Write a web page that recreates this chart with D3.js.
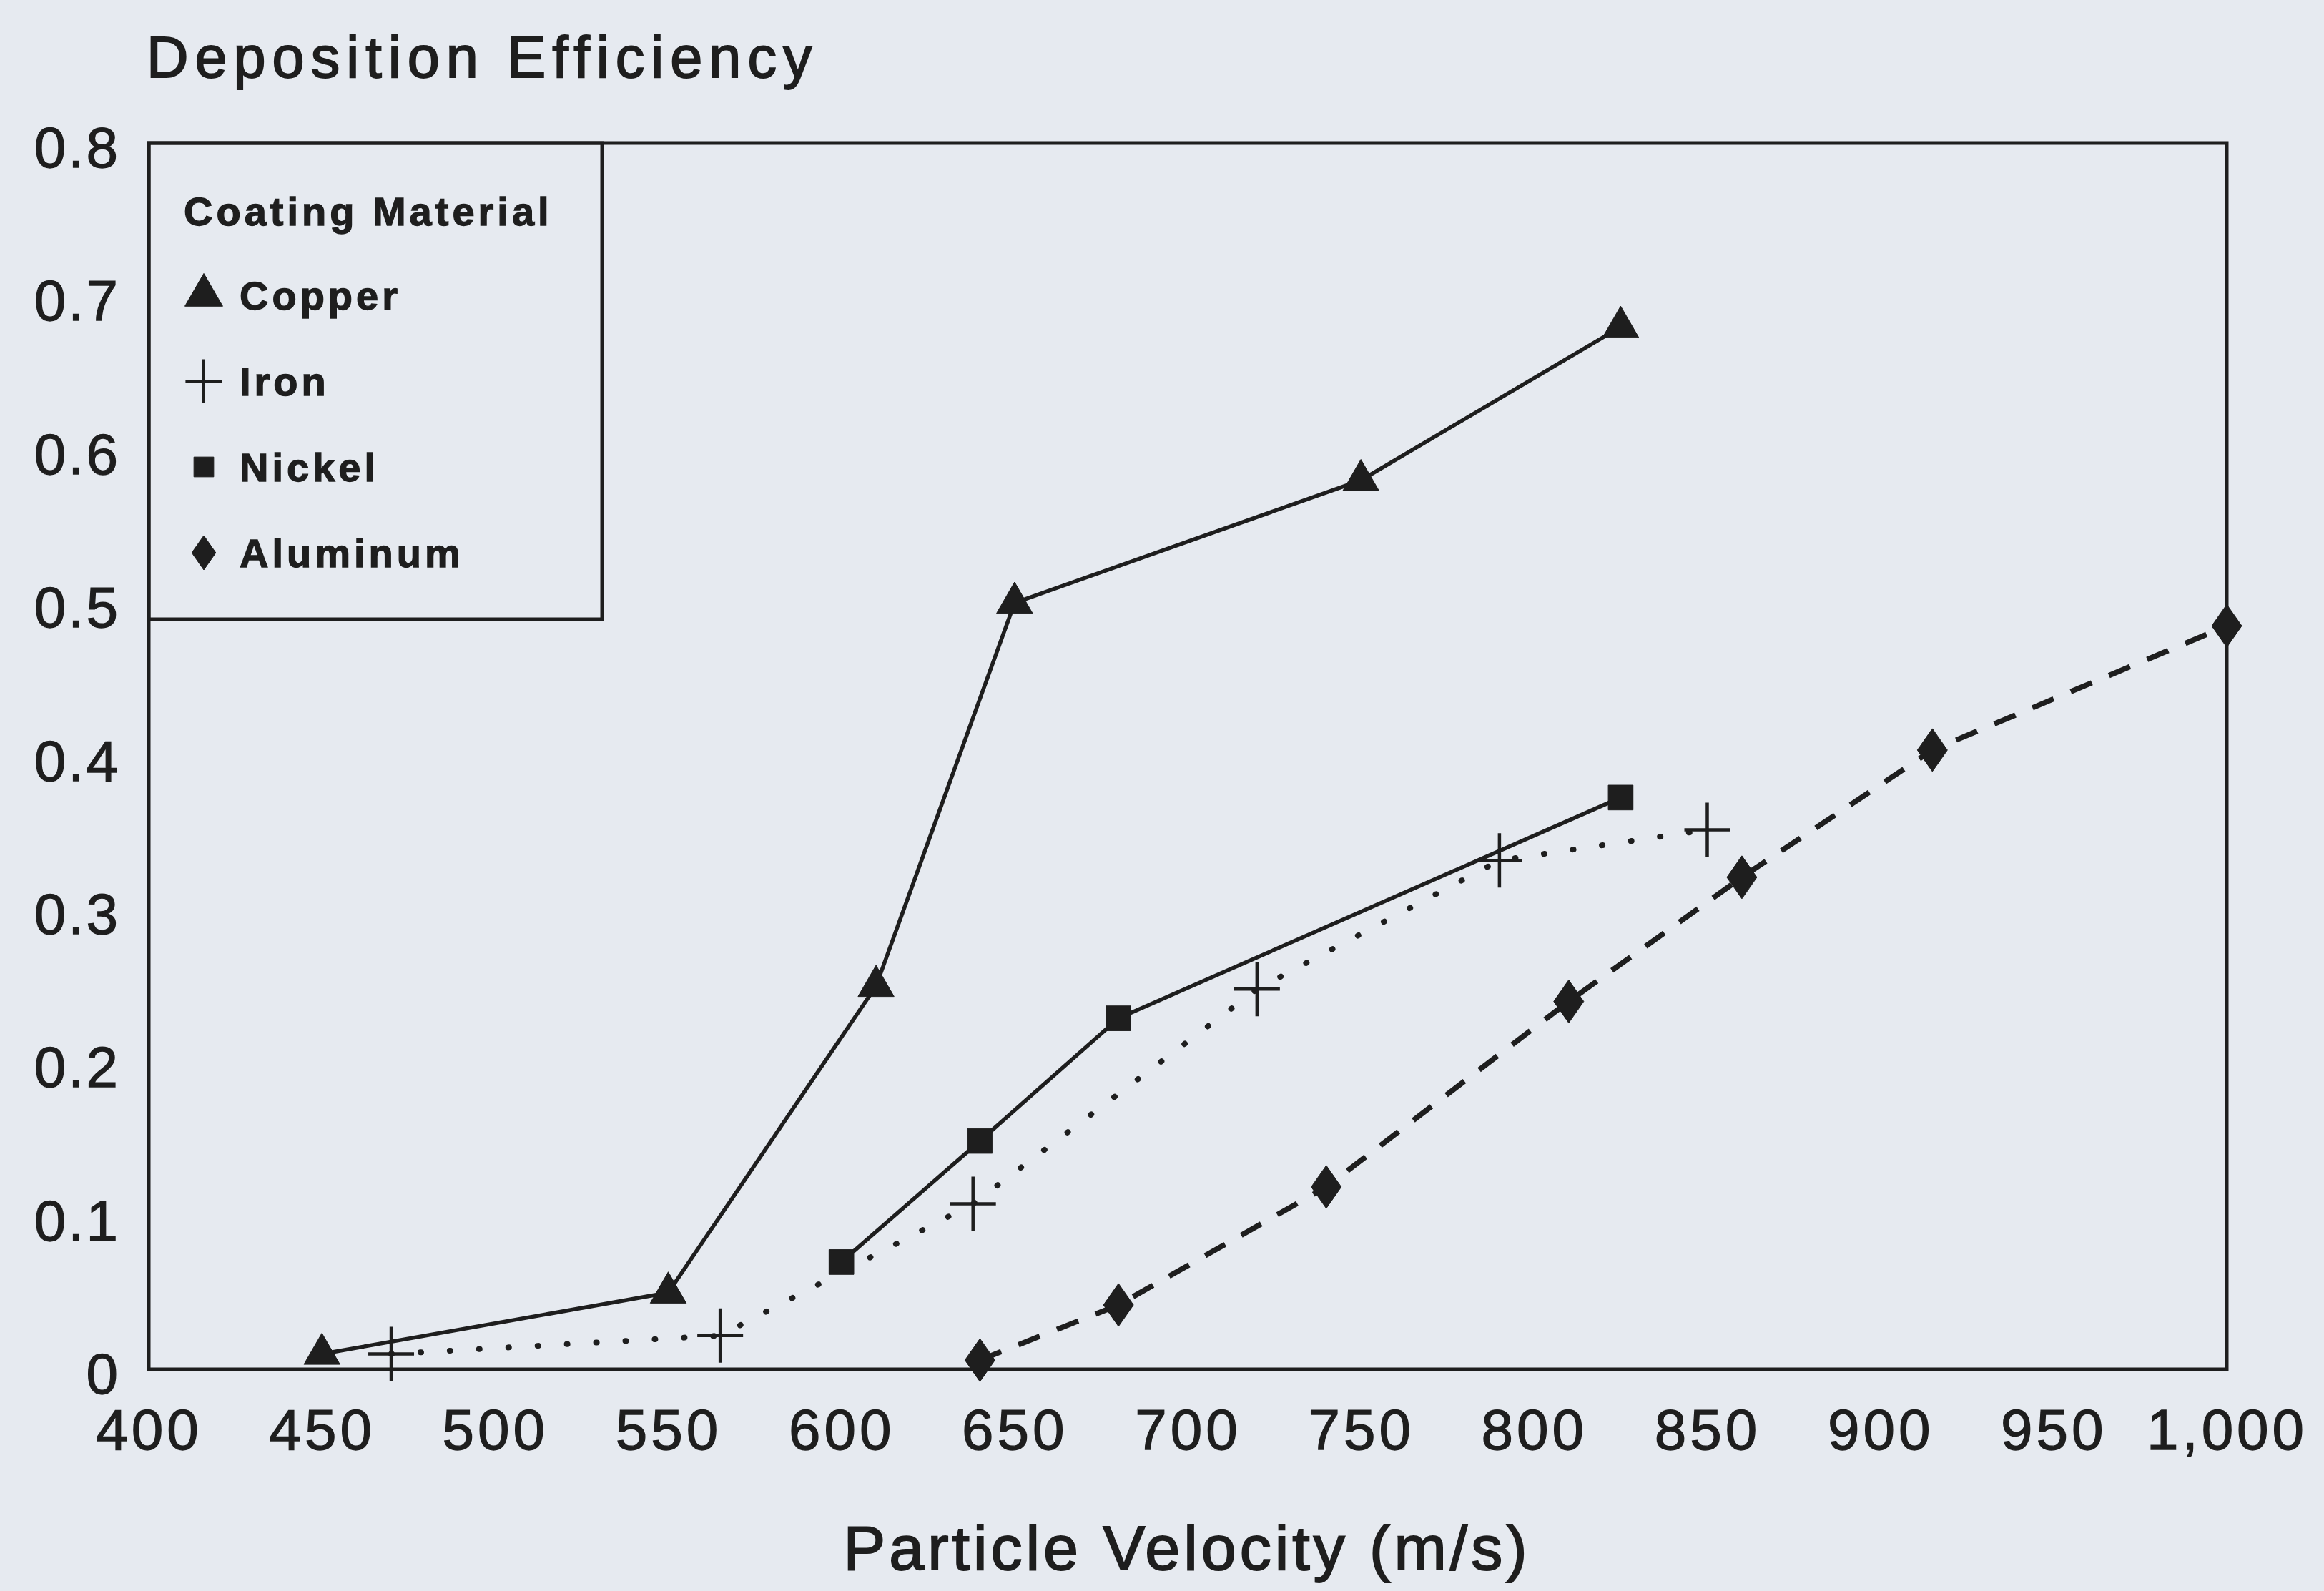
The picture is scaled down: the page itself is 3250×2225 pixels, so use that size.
<!DOCTYPE html>
<html lang="en">
  <head>
    <meta charset="UTF-8" />
    <title>Deposition Efficiency</title>
    <script src="https://cdn.jsdelivr.net/npm/d3@7"></script>
    <style>
      body {
        margin: 0;
        background: #e6eaf0;
      }
      svg text {
        font-family: "Liberation Sans", Arial, sans-serif;
        fill: #1e1e1e;
        stroke: #1e1e1e;
        stroke-width: 1.3px;
      }
    </style>
  </head>
  <body>
    <svg></svg>
    <script>
      // values
      const xTicks = [400, 450, 500, 550, 600, 650, 700, 750, 800, 850, 900, 950, 1000];
      const yTicks = [0, 0.1, 0.2, 0.3, 0.4, 0.5, 0.6, 0.7, 0.8];

      const copperVel = [450, 550, 610, 650, 750, 825];
      const copperEff = [0.01, 0.05, 0.25, 0.5, 0.58, 0.68];

      const ironVel = [470, 565, 638, 720, 790, 850];
      const ironEff = [0.01, 0.022, 0.108, 0.248, 0.332, 0.352];

      const nickelVel = [600, 640, 680, 825];
      const nickelEff = [0.07, 0.149, 0.229, 0.373];

      const aluminumVel = [640, 680, 740, 810, 860, 915, 1000];
      const aluminumEff = [0.006, 0.042, 0.119, 0.24, 0.321, 0.404, 0.485];

      const materials = ["Copper", "Iron", "Nickel", "Aluminum"];

      let width = 3250,
        height = 2225;
      let margin = { left: 208, right: 136, top: 200, bottom: 310 };

      let svg = d3.select("svg").attr("width", width).attr("height", height);

      let x = d3
        .scaleLinear()
        .domain([400, 1000])
        .range([margin.left, width - margin.right]);
      let y = d3
        .scaleLinear()
        .domain([0, 0.8])
        .range([height - margin.bottom, margin.top]);

      const ink = "#1e1e1e";

      // marker shapes
      function markerPath(name, s) {
        s = s || 1;
        if (name == "Copper")
          return d3.symbol().type(d3.symbolTriangle).size(1100 * s * s)();
        if (name == "Nickel")
          return d3.symbol().type(d3.symbolSquare).size(1200 * s * s)();
        if (name == "Aluminum") {
          let w = 21 * s, h = 30 * s;
          return `M0,${-h}L${w},0L0,${h}L${-w},0Z`;
        }
        // iron cross
        let w = 32 * s, h = 38 * s;
        return `M${-w},0H${w}M0,${-h}V${h}`;
      }

      let series = [
        { name: "Copper", vel: copperVel, eff: copperEff, dash: null, lw: 5.5 },
        { name: "Iron", vel: ironVel, eff: ironEff, dash: "1,40", lw: 8 },
        { name: "Nickel", vel: nickelVel, eff: nickelEff, dash: null, lw: 5.5 },
        { name: "Aluminum", vel: aluminumVel, eff: aluminumEff, dash: "32,26", lw: 7.5 },
      ];

      let line = d3
        .line()
        .x((d) => x(d[0]))
        .y((d) => y(d[1]));

      // plot frame
      svg
        .append("rect")
        .attr("x", x(400))
        .attr("y", y(0.8))
        .attr("width", x(1000) - x(400))
        .attr("height", y(0) - y(0.8))
        .attr("fill", "none")
        .attr("stroke", ink)
        .attr("stroke-width", 5);

      series.forEach((s) => {
        let pts = s.vel.map((v, i) => [v, s.eff[i]]);
        svg
          .append("path")
          .attr("d", line(pts))
          .attr("fill", "none")
          .attr("stroke", ink)
          .attr("stroke-width", s.lw)
          .attr("stroke-linecap", s.name == "Iron" ? "round" : "butt")
          .attr("stroke-dasharray", s.dash);

        svg
          .append("g")
          .selectAll("path")
          .data(pts)
          .enter()
          .append("path")
          .attr("transform", (d) => `translate(${x(d[0])},${y(d[1])})`)
          .attr("d", markerPath(s.name))
          .attr("fill", s.name == "Iron" ? "none" : ink)
          .attr("stroke", ink)
          .attr("stroke-width", s.name == "Iron" ? 4.5 : 1);
      });

      // axes
      let xAxis = svg
        .append("g")
        .attr("transform", `translate(0,${y(0)})`)
        .call(
          d3.axisBottom(x).tickValues(xTicks).tickSize(0).tickPadding(55).tickFormat(d3.format(","))
        );
      xAxis.select(".domain").remove();
      xAxis
        .selectAll("text")
        .attr("font-size", 80)
        .attr("letter-spacing", 5)
        .attr("font-family", "Liberation Sans, Arial, sans-serif")
        .attr("fill", ink);

      let yAxis = svg
        .append("g")
        .attr("transform", `translate(${x(400)},8)`)
        .call(
          d3.axisLeft(y).tickValues(yTicks).tickSize(0).tickPadding(40).tickFormat((d) => (d == 0 ? "0" : d3.format(".1f")(d)))
        );
      yAxis.select(".domain").remove();
      yAxis
        .selectAll("text")
        .attr("font-size", 80)
        .attr("letter-spacing", 3)
        .attr("font-family", "Liberation Sans, Arial, sans-serif")
        .attr("fill", ink);

      // titles
      svg
        .append("text")
        .attr("x", 205)
        .attr("y", 108)
        .attr("font-size", 81)
        .attr("letter-spacing", 9)
        .style("stroke-width", "2px")
        .text("Deposition Efficiency");

      svg
        .append("text")
        .attr("x", 1660)
        .attr("y", 2195)
        .attr("text-anchor", "middle")
        .attr("font-size", 88)
        .attr("letter-spacing", 5)
        .style("stroke-width", "2px")
        .text("Particle Velocity (m/s)");

      // legend
      let legend = svg.append("g");
      legend
        .append("rect")
        .attr("x", x(400))
        .attr("y", y(0.8))
        .attr("width", 634)
        .attr("height", 666)
        .attr("fill", "none")
        .attr("stroke", ink)
        .attr("stroke-width", 5);
      legend
        .append("text")
        .attr("x", 257)
        .attr("y", 315)
        .attr("font-size", 56)
        .attr("font-weight", "bold")
        .attr("letter-spacing", 5)
        .text("Coating Material");

      let items = legend
        .selectAll("g.item")
        .data(materials)
        .enter()
        .append("g")
        .attr("class", "item")
        .attr("transform", (d, i) => `translate(285,${413 + i * 120})`);
      items
        .append("path")
        .attr("d", (d) => markerPath(d, d == "Copper" ? 1.05 : 0.8))
        .attr("fill", (d) => (d == "Iron" ? "none" : ink))
        .attr("stroke", ink)
        .attr("stroke-width", (d) => (d == "Iron" ? 4 : 1));
      items
        .append("text")
        .attr("x", 50)
        .attr("y", 20)
        .attr("font-size", 56)
        .attr("font-weight", "bold")
        .attr("letter-spacing", 5)
        .text((d) => d);
    </script>
  </body>
</html>
